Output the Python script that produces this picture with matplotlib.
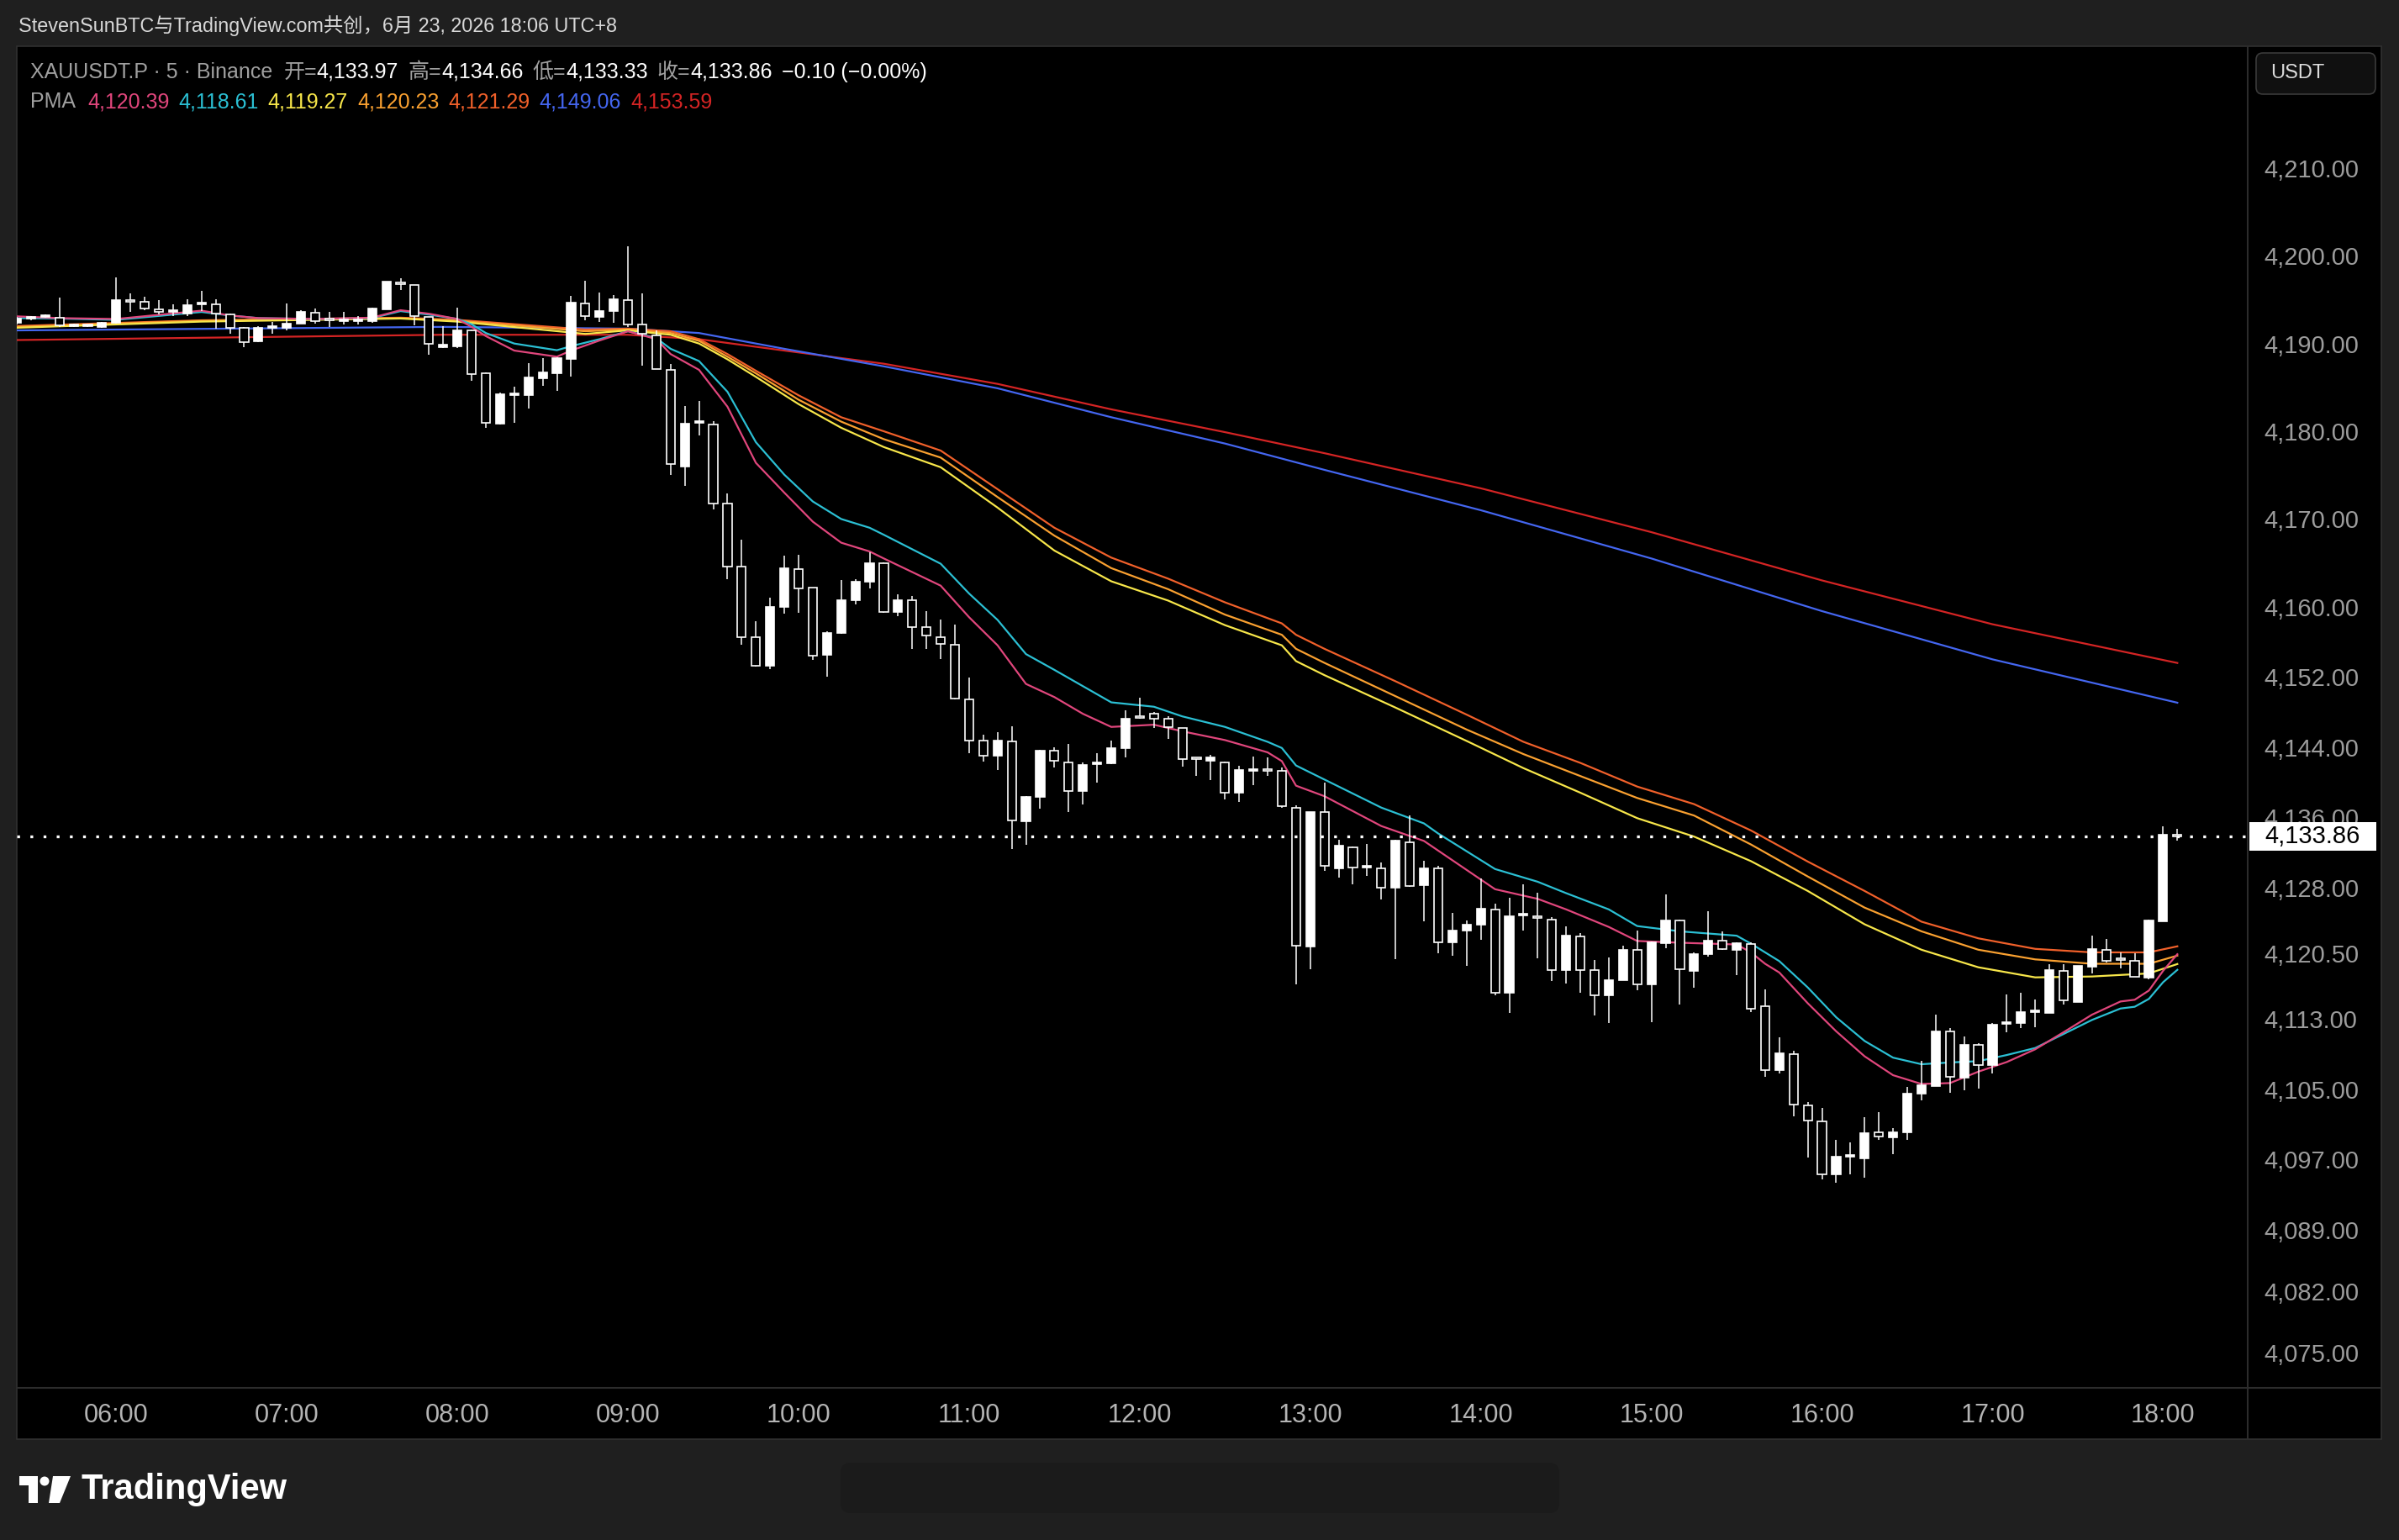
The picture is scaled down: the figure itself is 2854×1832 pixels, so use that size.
import matplotlib
matplotlib.use("Agg")
import matplotlib.pyplot as plt
import matplotlib.transforms as mtransforms
from matplotlib.patches import Rectangle, FancyBboxPatch, Circle, Polygon
from matplotlib.lines import Line2D
import numpy as np

W, H, DPI = 2854, 1832, 100

# ---------------- data ----------------
first_bar = "05:25"
bar_minutes = 5

opens = [4192.35, 4192.84, 4193.0, 4192.9, 4192.0, 4192.0, 4191.9,
         4192.35, 4194.95, 4194.78, 4193.9, 4193.6, 4193.42, 4194.5, 4194.46, 4193.3, 4191.8, 4190.25, 4191.8,
         4191.77, 4192.3, 4193.5, 4192.7, 4192.6, 4192.6, 4192.6, 4193.9, 4197.0, 4196.66, 4193.0, 4189.55,
         4189.68, 4191.53, 4186.65, 4180.84, 4184.1, 4184.13, 4186.05, 4186.65, 4188.27, 4194.55, 4193.04, 4193.71,
         4194.95, 4192.2, 4190.92, 4186.99, 4175.99, 4181.0, 4180.77, 4171.8, 4164.6, 4156.57, 4153.3, 4159.93,
         4164.3, 4162.2, 4154.55, 4156.97, 4160.77, 4162.85, 4165.0, 4159.36, 4160.73, 4157.65, 4156.57, 4155.69,
         4149.39, 4144.74, 4143.03, 4144.6, 4135.55, 4138.34, 4143.6, 4142.25, 4138.97, 4142.1, 4142.15, 4143.86,
         4147.5, 4147.77, 4147.2, 4146.16, 4142.65, 4142.4, 4142.25, 4138.83, 4141.3, 4141.4, 4141.27, 4137.12,
         4121.27, 4136.63, 4130.2, 4132.6, 4130.3, 4130.2, 4127.93, 4133.18, 4128.26, 4130.2, 4121.78, 4123.04,
         4123.72, 4125.47, 4116.0, 4124.8, 4124.6, 4124.37, 4118.6, 4122.4, 4118.6, 4115.7, 4117.47, 4120.87,
         4116.93, 4121.68, 4124.2, 4118.44, 4120.4, 4121.94, 4120.87, 4121.6, 4114.5, 4107.15, 4109.0, 4103.16,
         4101.34, 4095.27, 4097.3, 4097.09, 4100.12, 4099.55, 4100.12, 4104.53, 4105.4, 4111.56, 4106.35, 4110.03,
         4107.73, 4112.45, 4112.58, 4113.8, 4113.7, 4118.49, 4114.98, 4118.97, 4120.9, 4119.8, 4119.67, 4117.76,
         4124.14, 4133.97]
highs = [4193.0, 4193.1, 4193.3, 4195.27, 4192.3, 4192.2, 4192.5,
         4197.5, 4195.69, 4195.37, 4194.95, 4194.46, 4195.04, 4196.0, 4195.04, 4193.4, 4191.9, 4191.95, 4192.45,
         4194.55, 4193.85, 4193.97, 4193.6, 4193.6, 4193.1, 4194.07, 4197.1, 4197.47, 4196.7, 4193.0, 4191.96,
         4194.1, 4191.6, 4186.7, 4184.4, 4185.1, 4187.76, 4188.3, 4188.4, 4195.4, 4197.14, 4195.83, 4195.56,
         4201.04, 4195.73, 4191.5, 4187.66, 4182.9, 4183.46, 4181.2, 4172.9, 4167.6, 4158.35, 4161.0, 4165.8,
         4165.9, 4162.2, 4157.2, 4163.0, 4163.1, 4166.2, 4165.1, 4161.46, 4161.2, 4159.5, 4158.5, 4157.94,
         4151.93, 4145.43, 4145.7, 4146.4, 4138.4, 4143.7, 4143.96, 4144.35, 4142.25, 4143.3, 4144.7, 4148.2,
         4149.6, 4148.0, 4147.5, 4146.2, 4142.8, 4143.1, 4142.3, 4141.9, 4142.9, 4142.8, 4141.66, 4137.36,
         4136.63, 4139.95, 4133.44, 4132.7, 4132.95, 4130.85, 4133.4, 4136.26, 4131.07, 4130.5, 4125.08, 4124.27,
         4129.06, 4126.2, 4126.86, 4128.4, 4127.4, 4124.6, 4123.6, 4122.8, 4119.73, 4120.06, 4121.35, 4123.07,
         4121.8, 4127.2, 4124.3, 4120.6, 4125.3, 4122.97, 4121.7, 4121.7, 4116.35, 4110.92, 4109.4, 4103.5,
         4102.9, 4099.23, 4098.9, 4101.8, 4102.36, 4100.6, 4105.24, 4108.2, 4113.5, 4112.0, 4111.0, 4110.2,
         4112.58, 4115.84, 4116.03, 4115.2, 4119.3, 4119.3, 4119.1, 4122.48, 4122.1, 4120.6, 4120.5, 4124.3,
         4135.0, 4134.66]
lows = [4192.2, 4192.7, 4192.9, 4191.9, 4191.9, 4191.9, 4191.8,
        4192.3, 4193.58, 4193.84, 4193.33, 4193.16, 4193.1, 4193.74, 4191.7, 4191.1, 4189.6, 4190.2, 4191.15,
        4191.5, 4192.3, 4192.3, 4191.87, 4192.2, 4192.2, 4192.35, 4193.9, 4196.08, 4192.1, 4188.73, 4189.5,
        4189.5, 4185.75, 4180.4, 4180.8, 4181.0, 4182.6, 4185.2, 4184.6, 4186.25, 4192.7, 4192.47, 4192.4,
        4191.86, 4187.5, 4187.1, 4175.05, 4173.77, 4179.5, 4171.1, 4163.1, 4155.7, 4153.2, 4152.9, 4159.2,
        4159.3, 4153.9, 4152.0, 4156.9, 4160.3, 4162.1, 4159.3, 4158.92, 4155.2, 4155.2, 4154.03, 4149.4,
        4143.3, 4142.3, 4141.4, 4132.4, 4132.9, 4137.0, 4141.66, 4136.6, 4137.5, 4139.95, 4142.1, 4142.8,
        4147.2, 4146.2, 4144.94, 4141.76, 4140.7, 4140.2, 4138.0, 4137.75, 4139.7, 4140.7, 4137.1, 4116.97,
        4118.68, 4129.9, 4129.1, 4128.4, 4129.3, 4126.6, 4119.83, 4128.06, 4124.1, 4120.48, 4120.2, 4119.1,
        4122.0, 4115.75, 4113.7, 4123.1, 4119.9, 4117.37, 4117.05, 4116.0, 4113.4, 4112.5, 4117.4, 4116.33,
        4112.6, 4121.1, 4114.7, 4116.6, 4120.16, 4120.87, 4118.0, 4113.8, 4106.45, 4106.77, 4101.9, 4097.25,
        4094.7, 4094.38, 4095.3, 4094.95, 4099.23, 4097.6, 4099.23, 4103.7, 4105.4, 4104.6, 4104.85, 4105.1,
        4106.77, 4111.46, 4111.94, 4112.1, 4113.7, 4114.65, 4114.9, 4118.2, 4119.45, 4118.8, 4117.85, 4117.5,
        4124.1, 4133.33]
closes = [4192.84, 4193.03, 4193.16, 4192.1, 4192.2, 4192.1, 4192.4,
          4195.0, 4194.8, 4194.0, 4193.6, 4193.7, 4194.4, 4194.6, 4193.42, 4191.8, 4190.18, 4191.8, 4191.9,
          4192.3, 4193.65, 4192.6, 4192.65, 4192.7, 4192.75, 4193.97, 4197.08, 4196.8, 4193.1, 4189.96, 4189.9,
          4191.53, 4186.55, 4180.94, 4184.2, 4184.2, 4186.15, 4186.72, 4188.33, 4194.62, 4193.14, 4193.71, 4195.05,
          4192.2, 4191.1, 4187.1, 4176.23, 4180.84, 4181.05, 4171.8, 4164.6, 4156.57, 4153.3, 4159.99, 4164.4,
          4162.1, 4154.38, 4156.97, 4160.77, 4162.85, 4165.0, 4159.4, 4160.73, 4157.7, 4156.72, 4155.74, 4149.58,
          4144.74, 4143.03, 4144.74, 4135.65, 4138.34, 4143.6, 4142.4, 4138.97, 4142.0, 4142.15, 4143.86, 4147.28,
          4147.3, 4147.2, 4146.3, 4142.64, 4142.6, 4142.8, 4138.83, 4141.4, 4141.4, 4141.3, 4137.26, 4121.37,
          4136.63, 4130.42, 4132.8, 4130.26, 4130.35, 4127.93, 4133.34, 4128.16, 4130.2, 4121.78, 4123.07, 4123.72,
          4125.57, 4116.0, 4124.76, 4124.85, 4124.55, 4118.6, 4122.5, 4118.6, 4115.7, 4117.47, 4120.93, 4117.0,
          4121.74, 4124.2, 4118.7, 4120.45, 4121.97, 4120.97, 4121.68, 4114.13, 4107.15, 4109.07, 4103.25, 4101.47,
          4095.33, 4097.3, 4097.35, 4099.97, 4099.65, 4100.12, 4104.5, 4105.46, 4111.56, 4106.42, 4110.03, 4107.79,
          4112.33, 4112.55, 4113.8, 4113.85, 4118.59, 4115.14, 4119.07, 4120.95, 4119.6, 4119.75, 4117.85, 4124.24,
          4133.98, 4133.86]

pma_fast_times = ["05:25", "05:40", "06:00", "06:30", "06:40", "06:50", "07:10", "07:30", "07:40", "07:50",
                  "08:00", "08:05", "08:10", "08:20", "08:35", "08:40", "08:50", "09:00", "09:10", "09:15",
                  "09:25", "09:35", "09:45", "09:55", "10:05", "10:15", "10:25", "10:30", "10:50", "11:00",
                  "11:10", "11:20", "11:30", "11:40", "11:50", "12:05", "12:15", "12:30", "12:45", "12:50",
                  "12:55", "13:05", "13:25", "13:40", "13:45", "14:05", "14:20", "14:30", "14:45", "14:55",
                  "15:10", "15:30", "15:35", "15:40", "15:45", "15:55", "16:05", "16:15", "16:25", "16:35",
                  "16:45", "16:55", "17:05", "17:15", "17:25", "17:35", "17:45", "17:50", "17:55", "18:00", "18:05"]
pma_pink = [4193.1, 4192.9, 4192.8, 4193.75, 4193.2, 4192.9, 4192.8, 4192.95, 4193.8, 4193.4,
            4192.8, 4191.9, 4190.85, 4189.2, 4188.5, 4189.2, 4190.35, 4191.4, 4190.5, 4188.8,
            4187.0, 4182.8, 4176.4, 4173.0, 4169.7, 4167.3, 4166.3, 4165.5, 4162.4, 4158.8,
            4155.6, 4151.2, 4149.7, 4147.8, 4146.3, 4146.55, 4145.8, 4144.8, 4143.4, 4142.4,
            4139.6, 4138.4, 4135.0, 4133.3, 4132.2, 4127.8, 4126.7, 4125.5, 4123.5, 4121.9,
            4121.7, 4121.5, 4120.6, 4119.3, 4118.3, 4114.8, 4111.6, 4108.75, 4106.6, 4105.6,
            4105.7, 4107.0, 4108.1, 4109.55, 4111.5, 4113.5, 4115.0, 4115.2, 4116.25, 4118.5, 4120.39]
pma_cyan = [4192.9, 4192.85, 4192.7, 4193.6, 4193.2, 4192.9, 4192.8, 4192.9, 4193.7, 4193.3,
            4192.8, 4192.2, 4191.2, 4190.0, 4189.24, 4189.7, 4190.5, 4191.4, 4190.6, 4189.4,
            4188.0, 4184.5, 4178.75, 4175.05, 4172.0, 4170.0, 4169.0, 4168.2, 4164.9, 4161.5,
            4158.5, 4154.6, 4152.8, 4150.95, 4149.1, 4148.6, 4147.5, 4146.3, 4144.6, 4143.9,
            4141.9, 4140.3, 4137.1, 4135.3, 4134.15, 4130.1, 4128.65, 4127.35, 4125.5, 4123.6,
            4123.0, 4122.5, 4121.6, 4120.6, 4119.6, 4116.6, 4113.2, 4110.5, 4108.6, 4107.85,
            4108.05, 4108.2, 4108.9, 4109.7, 4111.3, 4112.9, 4114.2, 4114.4, 4115.3, 4117.2, 4118.61]

pma_mid_times = ["05:25", "06:30", "07:40", "08:00", "08:45", "09:00", "09:15", "09:25", "09:35", "09:45",
                 "10:00", "10:15", "10:30", "10:50", "11:10", "11:30", "11:50", "12:10", "12:30", "12:50",
                 "12:55", "13:05", "13:30", "13:55", "14:15", "14:35", "14:55", "15:15", "15:35", "15:55",
                 "16:15", "16:35", "16:55", "17:15", "17:35", "17:55", "18:05"]
pma_yellow = [4191.8, 4192.5, 4192.85, 4192.5, 4191.1, 4191.5, 4191.0, 4190.0, 4188.2, 4186.2,
              4183.1, 4180.4, 4178.2, 4175.9, 4171.3, 4166.4, 4162.9, 4160.7, 4157.9, 4155.6,
              4153.8, 4152.2, 4148.5, 4144.7, 4141.6, 4138.8, 4135.9, 4133.8, 4131.0, 4127.6,
              4123.8, 4120.9, 4118.9, 4117.75, 4117.85, 4118.2, 4119.27]
pma_orange = [4191.9, 4192.6, 4192.9, 4192.6, 4191.4, 4191.6, 4191.2, 4190.3, 4188.5, 4186.6,
              4183.6, 4181.1, 4179.1, 4177.0, 4172.5, 4168.1, 4164.4, 4162.0, 4159.1, 4156.8,
              4155.2, 4153.6, 4149.8, 4146.0, 4143.2, 4140.7, 4138.2, 4136.2, 4132.9, 4129.25,
              4125.7, 4123.0, 4120.9, 4119.8, 4119.3, 4119.3, 4120.23]
pma_deep_orange = [4192.0, 4192.65, 4192.95, 4192.7, 4191.6, 4191.7, 4191.4, 4190.5, 4188.8, 4186.9,
                   4184.1, 4181.6, 4180.0, 4177.8, 4173.4, 4169.0, 4165.6, 4163.2, 4160.5, 4158.1,
                   4156.8, 4155.2, 4151.5, 4147.7, 4144.6, 4142.2, 4139.5, 4137.5, 4134.5, 4130.95,
                   4127.6, 4124.1, 4122.2, 4121.0, 4120.6, 4120.6, 4121.29]

pma_slow_times = ["05:25", "07:55", "09:00", "09:25", "09:55", "10:30", "11:10", "11:50", "12:30", "13:05",
                  "14:00", "15:00", "16:00", "17:00", "18:05"]
pma_blue = [4191.5, 4191.9, 4191.7, 4191.2, 4189.4, 4187.4, 4184.9, 4181.6, 4178.6, 4175.6,
            4171.0, 4165.5, 4159.5, 4154.0, 4149.06]
pma_red = [4190.4, 4191.0, 4191.0, 4190.5, 4189.2, 4187.7, 4185.4, 4182.5, 4179.9, 4177.5,
           4173.5, 4168.5, 4163.0, 4158.0, 4153.59]

price_ticks = [4210, 4200, 4190, 4180, 4170, 4160, 4152, 4144, 4136, 4128, 4120.5, 4113, 4105,
               4097, 4089, 4082, 4075]
time_ticks = ["06:00", "07:00", "08:00", "09:00", "10:00", "11:00", "12:00", "13:00", "14:00",
              "15:00", "16:00", "17:00", "18:00"]
last_price = 4133.86

header_text = "StevenSunBTC与TradingView.com共创，6月 23, 2026 18:06 UTC+8"
symbol_text = "XAUUSDT.P · 5 · Binance"
ohlc_names = ["开", "高", "低", "收"]
ohlc_values = [4133.97, 4134.66, 4133.33, 4133.86]
change_text = "−0.10 (−0.00%)"
pma_name = "PMA"
pma_legend_values = [4120.39, 4118.61, 4119.27, 4120.23, 4121.29, 4149.06, 4153.59]

# ---------------- styles ----------------
BG = "#1f1f1f"
C_PINK = "#e0467c"
C_CYAN = "#2bbfd3"
C_YELLOW = "#f7e64a"
C_ORANGE = "#f9a030"
C_DORANGE = "#f0602a"
C_BLUE = "#4466f0"
C_RED = "#d42424"
pma_colors = [C_PINK, C_CYAN, C_YELLOW, C_ORANGE, C_DORANGE, C_BLUE, C_RED]

FONT = ["Liberation Sans", "Noto Sans CJK SC", "DejaVu Sans"]
plt.rcParams["font.family"] = FONT
plt.rcParams["axes.unicode_minus"] = False


def t2x(t):
    h0, m0 = map(int, first_bar.split(":"))
    h, m = map(int, t.split(":"))
    return ((h * 60 + m) - (h0 * 60 + m0)) / bar_minutes


fig = plt.figure(figsize=(W / DPI, H / DPI), dpi=DPI, facecolor=BG)
PX = mtransforms.Affine2D().scale(1.0 / W, -1.0 / H).translate(0, 1) + fig.transFigure

# chart panel
fig.add_artist(Rectangle((20, 55), 2813, 1657, transform=PX, fc="black", ec="#303030", lw=1.2, zorder=-5))

L, R, T, B = 20, 2674, 55, 1651
ax = fig.add_axes([L / W, 1 - B / H, (R - L) / W, (B - T) / H])
ax.set_facecolor("black")
ax.patch.set_alpha(0)
for s in ax.spines.values():
    s.set_visible(False)

n = len(opens)
x = np.arange(n)
o = np.array(opens); h = np.array(highs); l = np.array(lows); c = np.array(closes)

# moving averages (under candles)
ax.plot([t2x(t) for t in pma_slow_times], pma_red, color=C_RED, lw=1.6, zorder=1)
ax.plot([t2x(t) for t in pma_slow_times], pma_blue, color=C_BLUE, lw=1.6, zorder=1)
mx = [t2x(t) for t in pma_mid_times]
ax.plot(mx, pma_deep_orange, color=C_DORANGE, lw=1.6, zorder=1)
ax.plot(mx, pma_orange, color=C_ORANGE, lw=1.6, zorder=1)
ax.plot(mx, pma_yellow, color=C_YELLOW, lw=1.6, zorder=1)
fx_ = [t2x(t) for t in pma_fast_times]
ax.plot(fx_, pma_cyan, color=C_CYAN, lw=1.6, zorder=1)
ax.plot(fx_, pma_pink, color=C_PINK, lw=1.6, zorder=1)

# candles
ax.vlines(x, l, h, color="white", lw=1.1, zorder=2)
up = c >= o
bottom = np.minimum(o, c)
height = np.maximum(np.abs(c - o), 0.18)
ax.bar(x[up], height[up], bottom=bottom[up], width=0.6, color="white", edgecolor="white", lw=1.2, zorder=3)
ax.bar(x[~up], height[~up], bottom=bottom[~up], width=0.6, color="black", edgecolor="white", lw=1.2, zorder=3)

# last price dotted line
ax.axhline(last_price, color="white", lw=2.4, linestyle=(0, (1, 3.7)), zorder=5)

ax.set_xlim(0.004, 156.95)
ax.set_ylim(4070.96, 4223.89)

ax.set_xticks([t2x(t) for t in time_ticks])
ax.set_xticklabels(time_ticks)
ax.set_yticks(price_ticks)
ax.set_yticklabels([f"{v:,.2f}" for v in price_ticks])
ax.yaxis.tick_right()
ax.tick_params(axis="x", length=0, pad=13, labelsize=22, labelcolor="#b4b4b4")
ax.tick_params(axis="y", length=0, pad=14, labelsize=21, labelcolor="#9c9c9c")

# axis separators
fig.add_artist(Line2D([R, R], [55, 1712], transform=PX, color="#2c2c2c", lw=1.5, zorder=4))
fig.add_artist(Line2D([20, 2833], [B, B], transform=PX, color="#2c2c2c", lw=1.5, zorder=4))

# last price label
blend = mtransforms.blended_transform_factory(fig.transFigure, ax.transData)
half = 17 / 10.436
fig.add_artist(Rectangle((2676 / W, last_price - half), (2827 - 2676) / W, 2 * half,
                         transform=blend, fc="white", ec="none", zorder=10, clip_on=False))
fig.text(2694 / W, last_price, f"{last_price:,.2f}", transform=blend, ha="left", va="center",
         fontsize=21, color="black", zorder=11)

# USDT button
fig.add_artist(FancyBboxPatch((2684, 63), 142, 49, boxstyle="round,pad=0,rounding_size=8",
                              transform=PX, fc="#101010", ec="#3a3a3a", lw=1.2, zorder=6))
fig.text(2701 / W, 1 - 87 / H, "USDT", ha="left", va="center", fontsize=17, color="#dcdcdc", zorder=7)

# header
fig.text(22 / W, 1 - 31 / H, header_text, ha="left", va="center", fontsize=16.8, color="#d8d8d8")

renderer = fig.canvas.get_renderer()


def seq(x0, ypx, parts, size):
    xc = x0
    for txt, col, gap in parts:
        t = fig.text(xc / W, 1 - ypx / H, txt, ha="left", va="center", fontsize=size, color=col, zorder=8)
        bb = t.get_window_extent(renderer)
        xc += bb.width + gap


GRAY = "#a0a0a0"
parts1 = [(symbol_text, GRAY, 13)]
for nm, v in zip(ohlc_names, ohlc_values):
    parts1.append((nm + "=", GRAY, 0))
    parts1.append((f"{v:,.2f}", "white", 11))
parts1.append((change_text, "white", 0))
seq(36, 86, parts1, 18)

parts2 = [(pma_name, GRAY, 14)]
for v, col in zip(pma_legend_values, pma_colors):
    parts2.append((f"{v:,.2f}", col, 11))
seq(36, 121, parts2, 18)

# TradingView logo (bottom-left)
fig.add_artist(Rectangle((23, 1756), 22, 11, transform=PX, fc="white", ec="none"))
fig.add_artist(Rectangle((34, 1756), 11, 32, transform=PX, fc="white", ec="none"))
fig.add_artist(Circle((53, 1762), 5.5, transform=PX, fc="white", ec="none"))
fig.add_artist(Polygon([(63, 1756), (84, 1756), (71, 1788), (58, 1788)], closed=True,
                       transform=PX, fc="white", ec="none"))
fig.text(97 / W, 1 - 1772 / H, "TradingView", ha="left", va="center", fontsize=30,
         fontweight="bold", color="white")

# blurred watermark area
fig.add_artist(FancyBboxPatch((1000, 1740), 855, 60, boxstyle="round,pad=0,rounding_size=12",
                              transform=PX, fc="#1b1b1b", ec="none", zorder=1))

fig.savefig("out.png", dpi=DPI, facecolor=BG)
